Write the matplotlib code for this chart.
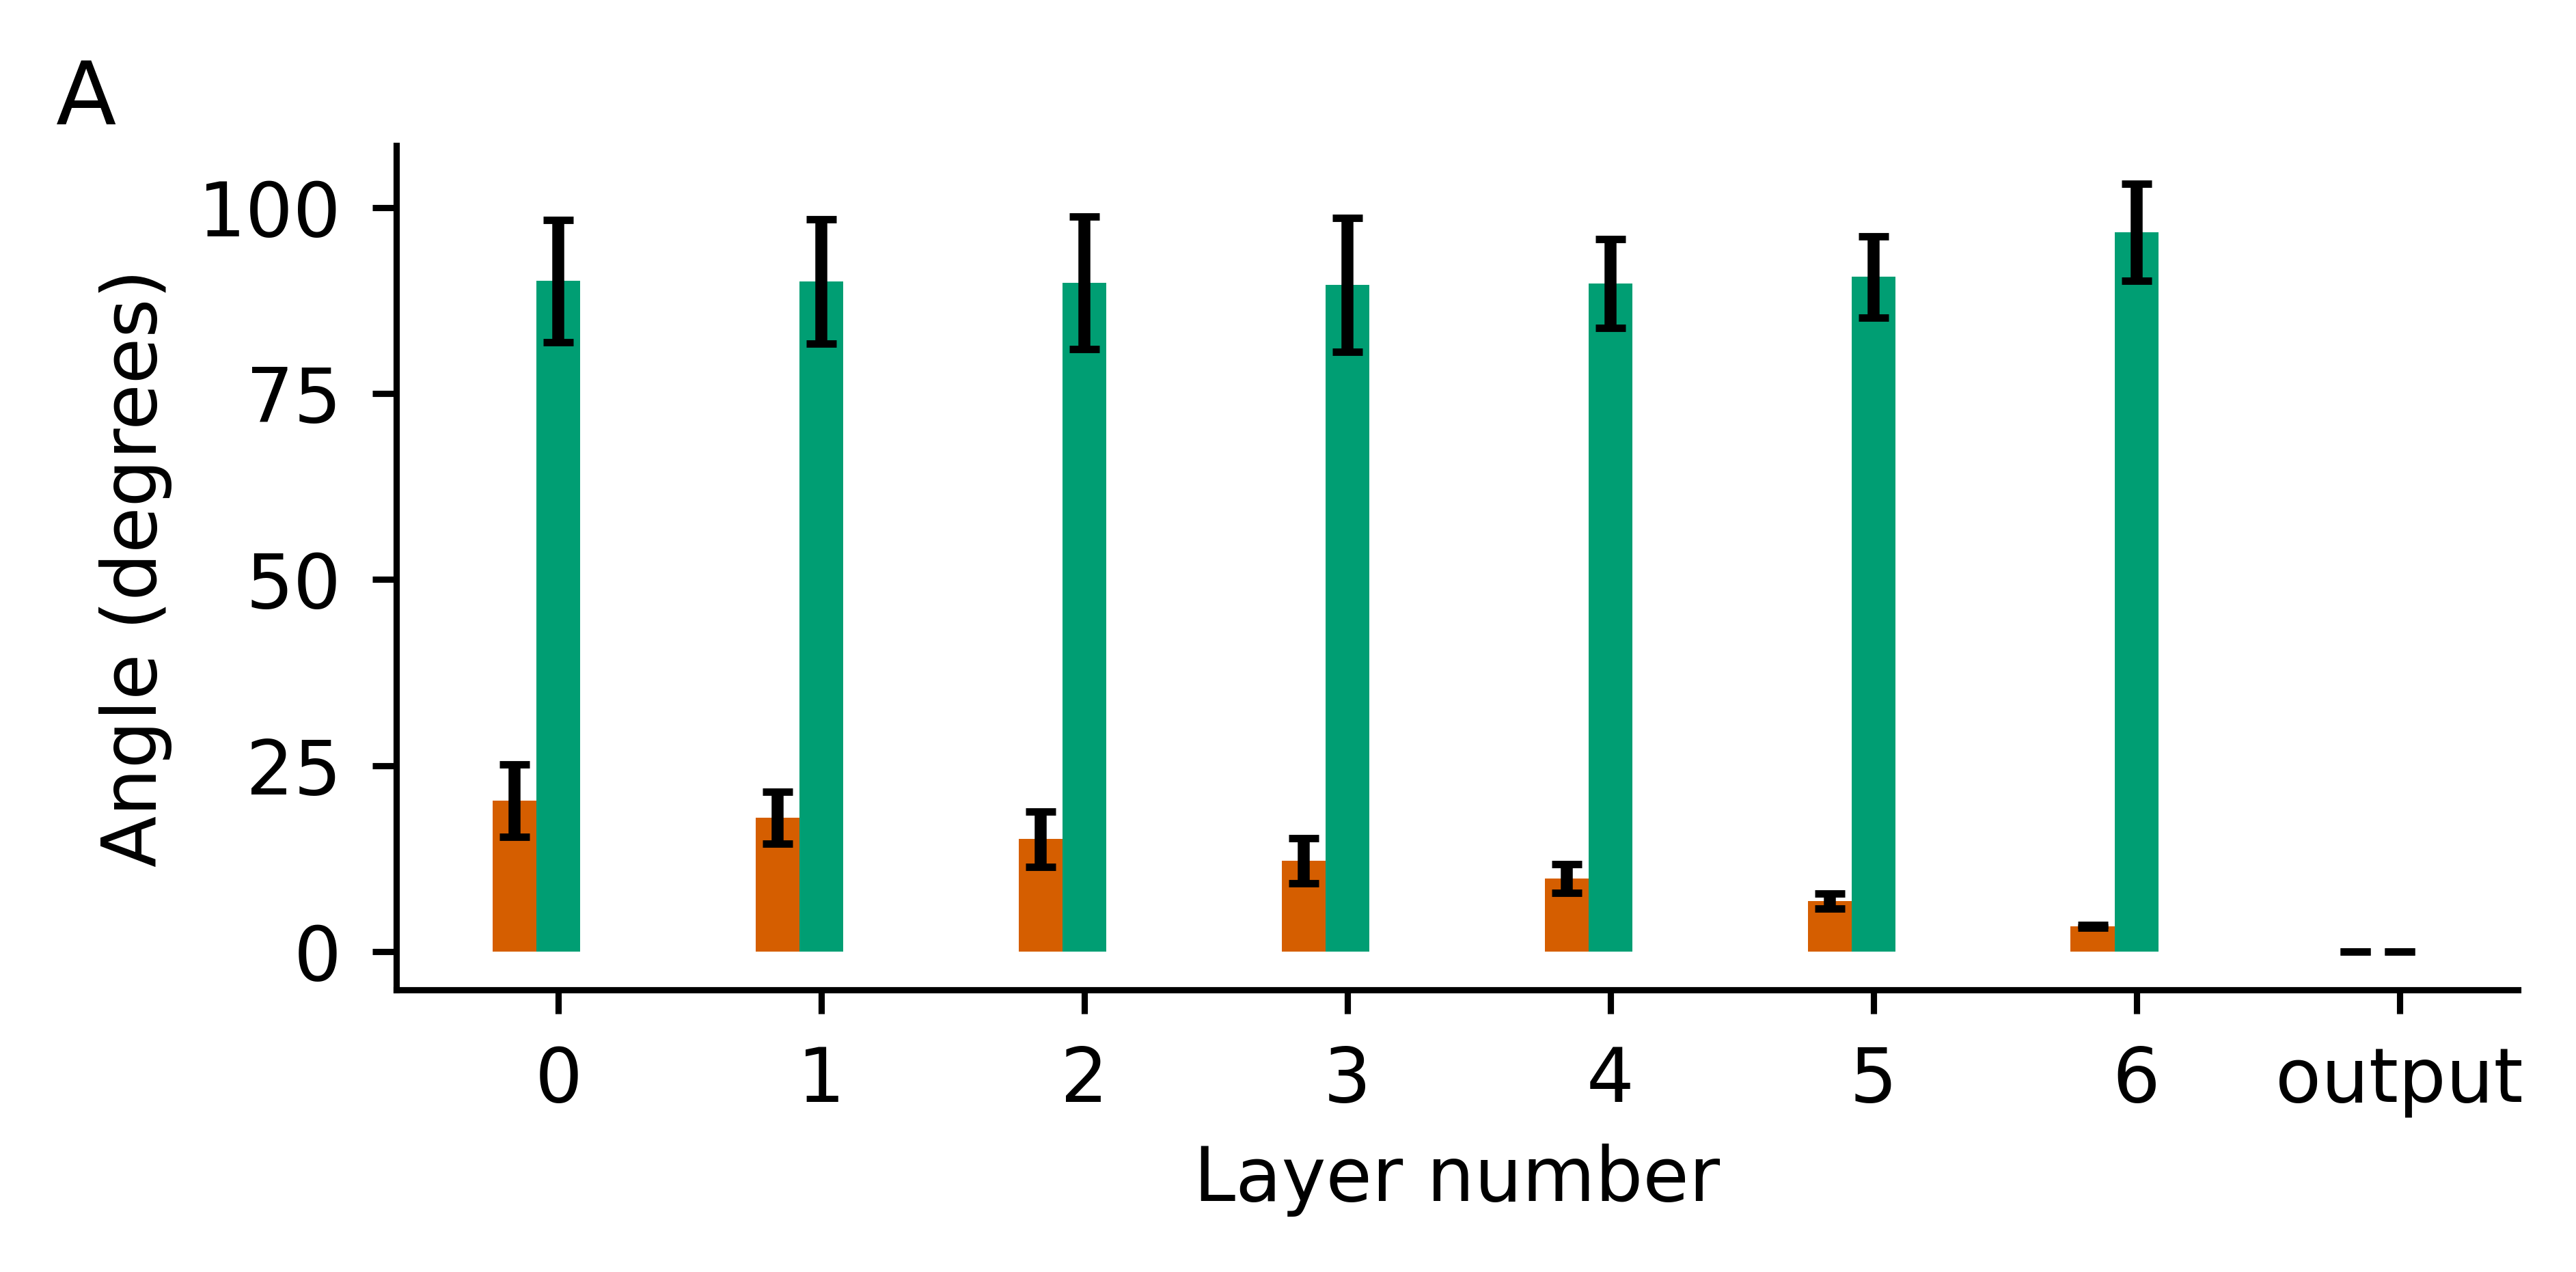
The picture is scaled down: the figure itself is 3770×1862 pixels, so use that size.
import numpy as np
import matplotlib
matplotlib.use("Agg")
import matplotlib.pyplot as plt

layers = ["0", "1", "2", "3", "4", "5", "6", "output"]
orange_vals = [20.3, 18.0, 15.1, 12.2, 9.8, 6.8, 3.4, 0.0]
orange_err = [4.85, 3.5, 3.75, 3.0, 1.95, 1.0, 0.2, 0.0]
green_vals = [90.15, 90.1, 89.9, 89.65, 89.8, 90.7, 96.7, 0.0]
green_err = [8.2, 8.35, 8.95, 9.0, 6.0, 5.45, 6.5, 0.0]

plt.rcParams["font.family"] = "DejaVu Sans"
plt.rcParams["font.size"] = 13.2
plt.rcParams["axes.linewidth"] = 1.1

fig = plt.figure(figsize=(3770 / 600, 1862 / 600), dpi=600)
ax = fig.add_axes([0.1538, 0.2218, 0.8236, 0.6638])
ax.use_sticky_edges = False

x = np.arange(len(layers))
w = 1 / 6
ekw = dict(elinewidth=2.1, capsize=2.65, capthick=1.3, ecolor="black")
ax.bar(x - w, orange_vals, w, yerr=orange_err, color="#D55E00", error_kw=ekw)
ax.bar(x, green_vals, w, yerr=green_err, color="#009E73", error_kw=ekw)

ax.set_xticks(x)
ax.set_xticklabels(layers)
ax.set_yticks([0, 25, 50, 75, 100])
ax.tick_params(length=4.2, width=1.1, pad=5.4, labelsize=13.2)
ax.spines["top"].set_visible(False)
ax.spines["right"].set_visible(False)
ax.set_xlabel("Layer number", labelpad=4.6)
ax.set_ylabel("Angle (degrees)", labelpad=4.6)

fig.text(0.0218, 0.9023, "A", fontsize=15.5, va="baseline", ha="left")

fig.savefig("out.png", dpi=600)
